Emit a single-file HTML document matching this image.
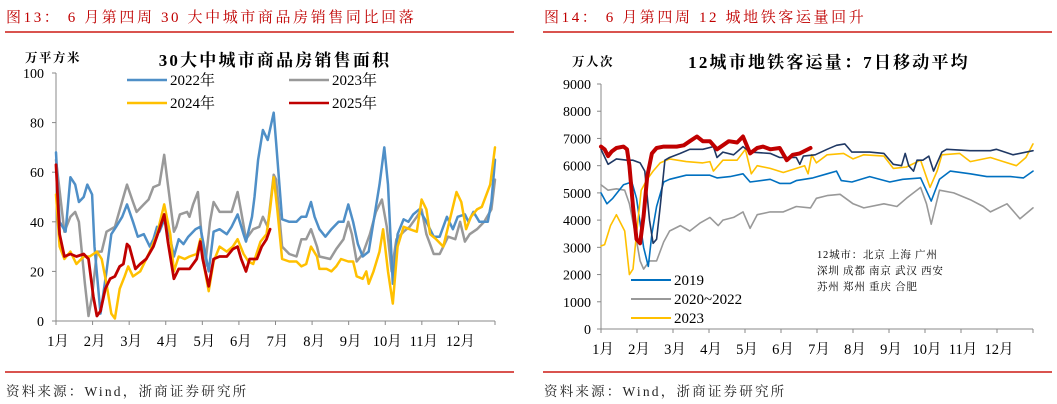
<!DOCTYPE html>
<html><head><meta charset="utf-8">
<style>
html,body{margin:0;padding:0;background:#fff;}
body{width:1057px;height:404px;position:relative;overflow:hidden;font-family:"Liberation Serif","Noto Serif CJK SC",serif;}
.t{position:absolute;white-space:nowrap;}
.hd{color:#c00000;font-size:15px;top:6px;letter-spacing:2.6px;}
.src{font-size:13.5px;top:380px;color:#222;letter-spacing:2.2px;}
.rule{position:absolute;height:1.5px;background:#d9534f;}
svg{position:absolute;left:0;top:0;}
svg text{font-family:"Liberation Serif","Noto Serif CJK SC",serif;}
</style></head><body>
<div class="t hd" style="left:6px">图13：  6 月第四周 30 大中城市商品房销售同比回落</div>
<div class="t hd" style="left:544px">图14：  6 月第四周 12 城地铁客运量回升</div>
<div class="rule" style="left:5px;width:509px;top:31px"></div>
<div class="rule" style="left:543px;width:509px;top:31px"></div>
<div class="rule" style="left:5px;width:509px;top:371px"></div>
<div class="rule" style="left:543px;width:509px;top:371px"></div>
<div class="t src" style="left:6px">资料来源：Wind，浙商证券研究所</div>
<div class="t src" style="left:544px">资料来源：Wind，浙商证券研究所</div>
<svg id="chart" width="1057" height="404"></svg>
<script>
// ---------- Left chart data ----------
const monthLabels=["1月","2月","3月","4月","5月","6月","7月","8月","9月","10月","11月","12月"];
const leftYTicks=[0,20,40,60,80,100];
const d2022=[0,3,8,12,16,19,23,26,30,32,37,42,46,50,55,59,64,68,73,78,81,84,86,91,93,98,102,106,110,116,120,127,131,136,142,146,151,156,158,163,165,168,172,176,181,183,188,194,200,204,208,212,215,219,224,229,235,239,243,247,251,255,260,264,269,273,276,280,284,289,293,297,302,308,314,319,325,330,334,340,343,347,352,359,362,365];
const v2022=[68,40,36,58,55,48,50,55,51,30,3,20,35,38,42,47,40,34,35,30,33,38,36,42,38,26,33,31,34,37,38,20,36,37,35,38,43,35,32,42,50,65,77,73,84,72,41,40,40,42,42,48,42,37,34,37,40,40,47,40,31,26,28,40,55,70,55,15,35,41,40,43,45,40,34,34,42,37,42,43,40,44,40,40,48,65];
const d2023=[0,7,12,16,19,21,24,27,30,34,38,42,49,56,59,64,67,73,77,81,86,90,93,98,100,103,109,111,114,118,121,124,128,131,136,142,146,151,154,158,164,169,172,176,181,183,188,194,200,204,208,212,217,219,228,233,239,243,246,250,255,261,266,271,275,279,283,289,294,300,304,308,314,319,326,332,336,340,344,350,356,362,365];
const v2023=[65,36,42,44,40,30,15,2,10,28,28,36,38,50,55,48,44,47,49,54,55,67,55,36,38,43,44,42,47,52,35,22,40,48,44,44,44,52,44,33,37,38,42,38,59,57,30,27,26,33,33,37,30,26,25,29,33,40,35,24,27,35,44,49,38,20,33,36,38,42,45,35,27,27,34,33,40,32,35,37,40,45,57];
const d2024=[0,3,7,12,17,23,28,34,38,42,46,49,53,57,60,64,70,78,84,90,95,98,102,107,111,117,120,122,127,131,136,142,147,151,156,160,164,170,175,178,181,184,188,194,200,204,208,212,217,219,225,229,233,237,243,247,250,255,258,260,264,269,272,276,280,284,289,294,300,304,308,311,316,322,327,333,337,341,345,350,354,361,365];
const v2024=[51,30,25,28,23,26,26,28,25,15,3,1,13,18,22,18,20,28,35,47,35,20,26,25,26,27,33,25,12,24,30,28,30,33,27,24,23,32,35,45,58,45,25,24,24,22,23,30,26,21,21,20,22,25,24,24,18,17,20,15,20,28,37,20,7,30,38,37,36,49,45,35,33,30,40,52,48,37,42,45,46,55,70];
const d2025=[0,3,7,12,17,23,27,31,34,37,41,45,49,53,56,59,61,66,70,75,81,86,90,93,98,102,106,111,117,120,122,127,131,136,142,147,151,154,158,161,167,171,175,178];
const v2025=[63,35,26,27,26,27,25,10,2,4,13,17,18,22,23,31,30,21,23,25,30,37,43,32,17,21,21,21,25,32,25,14,25,26,26,29,30,25,20,25,25,30,33,37];

// ---------- Right chart data ----------
const rightYTicks=[0,1000,2000,3000,4000,5000,6000,7000,8000,9000];
const dR2025=[0,3,6,9,13,19,22,24,27,30,33,36,39,43,47,53,64,70,75,81,86,92,98,103,108,115,120,126,132,137,143,151,157,162,168,177];
const vR2025=[6700,6600,6350,6520,6650,6700,6600,6000,4500,3300,3150,4150,5600,6450,6650,6700,6700,6750,6900,7070,6900,6900,6600,6750,6900,6850,7070,6450,6650,6700,6600,6650,6200,6400,6450,6650];
const dR2024=[0,6,13,22,27,33,37,41,44,47,50,54,58,67,75,86,95,98,103,112,120,126,143,151,165,168,171,181,191,199,206,212,227,239,247,254,257,260,264,267,272,277,281,284,288,292,312,329,334,348,365];
const vR2024=[6600,6050,6250,6200,6200,6100,5800,4000,3150,3300,4500,6200,6300,6450,6600,6600,6700,6300,6500,6400,6700,6500,6450,6300,6300,6050,6350,6400,6600,6750,6800,6500,6500,6450,6050,6000,6450,6000,5800,6200,6200,6350,5800,6100,6500,6600,6550,6550,6600,6400,6550];
const dR2019=[0,5,10,19,26,30,36,40,43,47,53,58,72,92,98,109,120,126,143,151,160,165,179,191,199,203,212,227,244,255,270,279,286,295,312,326,346,357,365];
const vR2019=[5000,4600,4800,5300,5400,4800,3000,2300,3500,4500,5400,5500,5650,5650,5550,5600,5700,5400,5500,5350,5350,5450,5550,5700,5800,5450,5400,5600,5400,5500,5550,4700,5500,5800,5700,5600,5600,5550,5800];
const dR2020=[0,6,13,20,24,29,33,36,41,47,53,58,67,75,84,92,99,103,112,120,126,132,143,154,165,177,182,191,202,213,222,239,250,258,270,275,279,286,298,312,323,329,343,354,365];
const vR2020=[5300,5100,5150,5100,4600,3500,2500,2200,2500,2500,3200,3600,3800,3600,3900,4100,3800,4000,4100,4300,3700,4200,4300,4300,4500,4450,4800,4900,4950,4600,4450,4600,4500,4800,5200,4600,3850,5100,5000,4750,4500,4300,4600,4050,4450];
const dR2023=[0,3,8,13,20,24,27,30,34,39,44,50,58,72,86,92,95,103,115,122,127,132,143,154,165,172,175,178,182,191,205,213,222,239,247,258,270,278,284,288,303,312,329,340,351,359,365];
const vR2023=[3050,3100,3800,4200,3600,2000,2200,3500,5100,5500,5800,6100,6250,6150,6100,6150,5800,6200,6200,6600,5700,6000,5900,5750,5900,6000,5700,6400,6100,6400,6450,6250,6400,6350,5900,5950,6200,5200,5800,6400,6450,6150,6300,6150,6000,6300,6800];

const NS="http://www.w3.org/2000/svg";
const svg=document.getElementById('chart');
function mk(tag,attrs,parent){const e=document.createElementNS(NS,tag);for(const k in attrs)e.setAttribute(k,attrs[k]);(parent||svg).appendChild(e);return e;}
function txt(s,x,y,size,anchor,weight,fill,ls){const e=mk('text',{x:x,y:y,'font-size':size,'text-anchor':anchor||'start','font-weight':weight||'normal',fill:fill||'#000'});if(ls)e.setAttribute('letter-spacing',ls);e.textContent=s;return e;}

function makeAxes(L,R,T,B,ymax){
  return {x:d=>L+d/365*(R-L), y:v=>B-v/ymax*(B-T)};
}
function drawFrame(ax,L,R,T,B,ticks,ymax,labelX,prefix){
  const a=mk('line',{x1:L,y1:T,x2:L,y2:B,stroke:'#888','stroke-width':1});
  
  
  const b=mk('line',{x1:L,y1:B,x2:R,y2:B,stroke:'#888','stroke-width':1});
  
  
  ticks.forEach(v=>{
    const y=ax.y(v);
    mk('line',{x1:L-4,y1:y,x2:L,y2:y,stroke:'#888','stroke-width':1});
    const t=txt(String(v),labelX,y+5,14,'end');
    
    
  });
  for(let m=0;m<=12;m++){
    const x=L+m*(R-L)/12;
    mk('line',{x1:x,y1:B,x2:x,y2:B+4,stroke:'#888','stroke-width':1});
    if(m<12){
      const t=txt(monthLabels[m],x+2,B+25,14.5,'middle');
      
      
    }
  }
}
function series(ax,days,vals,color,w,name){
  const pts=days.map((d,i)=>ax.x(d).toFixed(1)+','+ax.y(vals[i]).toFixed(1)).join(' ');
  const p=mk('polyline',{points:pts,fill:'none',stroke:color,'stroke-width':w,'stroke-linejoin':'round','stroke-linecap':'round'});
  
  
}
function legend(x,y,color,w,label,name){
  const g=mk('g',{});
  
  
  mk('line',{x1:x,y1:y,x2:x+40,y2:y,stroke:color,'stroke-width':w},g);
  const t=txt(label,x+43,y+5,15,'start');g.appendChild(t);
}

// Left chart
const LL=56,LR=495,LT=73,LB=321;
const axL=makeAxes(LL,LR,LT,LB,100);
drawFrame(axL,LL,LR,LT,LB,leftYTicks,100,44,'left');
let e=txt('万平方米',25,62,12.5,'start','bold',null,'1.5');


e=txt('30大中城市商品房销售面积',275,66,17,'middle','bold',null,'2.2');


series(axL,d2023,v2023,'#999999',2.5,'line-2023');
series(axL,d2022,v2022,'#4f8fc7',2.5,'line-2022');
series(axL,d2024,v2024,'#ffc000',2.5,'line-2024');
series(axL,d2025,v2025,'#c00000',2.8,'line-2025');
legend(127,80,'#4f8fc7',2.5,'2022年','legend-2022');
legend(289,80,'#999999',2.5,'2023年','legend-2023');
legend(127,103,'#ffc000',2.5,'2024年','legend-2024');
legend(289,103,'#c00000',2.5,'2025年','legend-2025');

// Right chart
const RL=601,RR=1033,RT=84,RB=329;
const axR=makeAxes(RL,RR,RT,RB,9000);
drawFrame(axR,RL,RR,RT,RB,rightYTicks,9000,591,'right');
e=txt('万人次',572,66,12.5,'start','bold',null,'1.5');


e=txt('12城市地铁客运量：7日移动平均',829,68,17,'middle','bold',null,'2.2');


series(axR,dR2020,vR2020,'#999999',1.6,'line-2020-2022');
series(axR,dR2019,vR2019,'#0070c0',1.6,'line-2019');
series(axR,dR2023,vR2023,'#ffc000',1.6,'line-2023-metro');
series(axR,dR2024,vR2024,'#1f3864',1.6,'line-2024-metro');
series(axR,dR2025,vR2025,'#c00000',4,'line-2025-metro');
legend(631,280,'#0070c0',2,'2019','legend-2019');
legend(631,299,'#999999',2,'2020~2022','legend-2020-2022');
legend(631,318,'#ffc000',2,'2023','legend-2023-metro');
['12城市：北京 上海 广州','深圳 成都 南京 武汉 西安','苏州 郑州 重庆 合肥'].forEach((s,i)=>{
  const t=txt(s,817,258+i*16,10.5,'start',null,null,'0.8');
  
  
});
</script>
</body></html>
